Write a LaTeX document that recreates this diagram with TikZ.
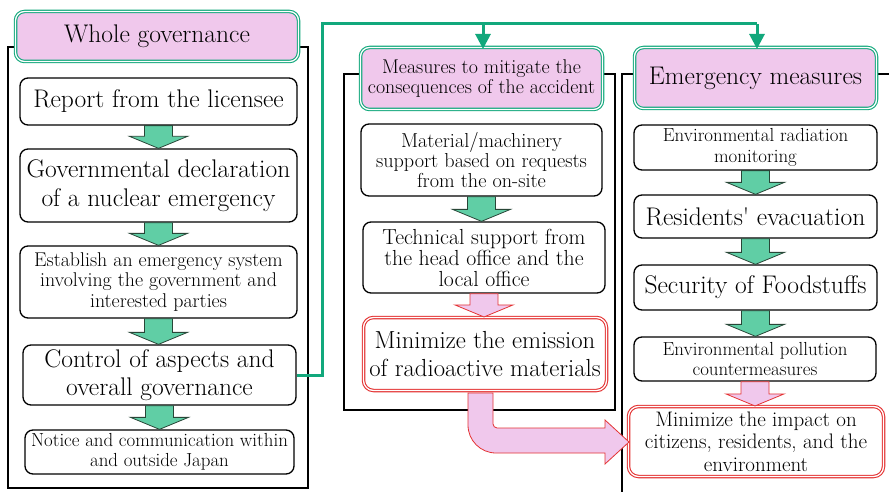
\documentclass[tikz,border=0pt]{standalone}
\usetikzlibrary{calc,arrows.meta}
\definecolor{gline}{RGB}{18,168,124}
\definecolor{gfill}{RGB}{96,206,165}
\definecolor{gedge}{RGB}{40,70,55}
\definecolor{pfill}{RGB}{240,200,236}
\definecolor{rline}{RGB}{228,52,52}
\newcommand{\fsA}{\fontsize{25.5}{28.5}\selectfont}
\newcommand{\fsB}{\fontsize{21.8}{21}\selectfont}
\newcommand{\fsC}{\fontsize{20.2}{19.6}\selectfont}
\newcommand{\fsD}{\fontsize{19.9}{20.5}\selectfont}
\newcommand{\fsE}{\fontsize{18.9}{20.5}\selectfont}
\newcommand{\fsF}{\fontsize{24.7}{28}\selectfont}
\newcommand{\fsG}{\fontsize{21}{22.5}\selectfont}
\newcommand{\blockarr}[3]{%
  \path[#3] let \p1=(#1.south), \p2=(#2.north) in
    (\x1-14pt,\y1) -- (\x1+14pt,\y1) -- (\x1+14pt,\y2+12pt) -- (\x1+29pt,\y2+12pt)
    -- (\x1,\y2) -- (\x1-29pt,\y2+12pt) -- (\x1-14pt,\y2+12pt) -- cycle;}
\tikzset{
  panel/.style={draw=black, line width=1.3pt},
  box/.style={draw=black, line width=1.3pt, rounded corners=8pt, fill=white, align=center, inner sep=0pt},
  hdr/.style={draw=gline, double=white, double distance=1.3pt, line width=1.1pt, fill=pfill, rounded corners=9pt, align=center, inner sep=0pt},
  redbox/.style={draw=rline, double=white, double distance=1.3pt, line width=1.1pt, fill=white, rounded corners=10pt, align=center, inner sep=0pt},
  garr/.style={fill=gfill, draw=gedge, line width=0.8pt, line join=miter},
  parr/.style={fill=pfill, draw=rline, line width=0.8pt, line join=miter},
  gconn/.style={draw=gline, line width=3pt},
  gtip/.style={-{Triangle[length=15pt,width=15pt]}}
}
\begin{document}
\begin{tikzpicture}[x=1pt,y=-1pt]
\useasboundingbox[fill=white] (0,0) rectangle (889,492);
% panels
\draw[panel] (8,47) rectangle (308,488);
\draw[panel] (344,74) rectangle (615,410);
\draw[panel] (622,492) -- (622,74) -- (889,74);
% headers
\node[hdr, font=\fsA, minimum width=283pt, minimum height=50pt] (h1) at (157,36.5) {Whole governance};
\node[hdr, font=\fsD, minimum width=242pt, minimum height=62pt] (h2) at (481.5,78.5) {Measures to mitigate the\\consequences of the accident};
\node[hdr, font=\fsA, minimum width=242pt, minimum height=61pt] (h3) at (755.5,78) {Emergency measures};
% column 1
\node[box, font=\fsA, minimum width=277pt, minimum height=47pt] (r1) at (158.5,101.5) {Report from the licensee};
\node[box, font=\fsA, minimum width=277pt, minimum height=73pt] (r2) at (158.5,185.5) {Governmental declaration\\of a nuclear emergency};
\node[box, font=\fsD, minimum width=277pt, minimum height=72pt] (r3) at (158.5,282) {Establish an emergency system\\involving the government and\\interested parties};
\node[box, font=\fsA, minimum width=273pt, minimum height=60pt] (r4) at (159.5,375) {Control of aspects and\\overall governance};
\node[box, font=\fsE, minimum width=269pt, minimum height=44pt] (r5) at (159.5,452) {Notice and communication within\\and outside Japan};
% column 2
\node[box, font=\fsC, minimum width=241pt, minimum height=72pt] (m1) at (481.5,160) {Material/machinery\\support based on requests\\from the on-site};
\node[box, font=\fsB, minimum width=242pt, minimum height=71pt] (m2) at (484,257.5) {Technical support from\\the head office and the\\local office};
\node[redbox, font=\fsF, minimum width=243pt, minimum height=73pt] (m3) at (485,354) {Minimize the emission\\of radioactive materials};
% column 3
\node[box, font=\fsE, minimum width=243pt, minimum height=45pt] (e1) at (755.5,147.5) {Environmental radiation\\monitoring};
\node[box, font=\fsA, minimum width=243pt, minimum height=43pt] (e2) at (755.5,216.5) {Residents\textquotesingle\ evacuation};
\node[box, font=\fsA, minimum width=243pt, minimum height=45pt] (e3) at (755.5,287.5) {Security of Foodstuffs};
\node[box, font=\fsE, minimum width=242pt, minimum height=44pt] (e4) at (755,359) {Environmental pollution\\countermeasures};
\node[redbox, font=\fsG, minimum width=255pt, minimum height=70pt] (e5) at (756,441.5) {Minimize the impact on\\citizens, residents, and the\\environment};
% block arrows
\blockarr{r1}{r2}{garr}
\blockarr{r2}{r3}{garr}
\blockarr{r3}{r4}{garr}
\blockarr{r4}{r5}{garr}
\blockarr{m1}{m2}{garr}
\blockarr{m2}{m3}{parr}
\blockarr{e1}{e2}{garr}
\blockarr{e2}{e3}{garr}
\blockarr{e3}{e4}{garr}
\blockarr{e4}{e5}{parr}
% big pink arrow
\path[parr] (468,393) -- (468,425) .. controls (468,440.5) and (480.5,453) .. (496,453)
  -- (605,453) -- (605,464) -- (629,442) -- (605,420) -- (605,428) -- (497,428)
  .. controls (495,428) and (493,426) .. (493,424) -- (493,393) -- cycle;
% green connectors
\coordinate (c1) at (322,24);
\coordinate (c2) at (757,24);
\coordinate (c3) at (483,24);
\draw[gconn] (r4.east) -| (c1) -- (c2);
\draw[gconn, gtip] (c2) -- ([yshift=-2pt]h3.north -| c2);
\draw[gconn, gtip] (c3) -- ([yshift=-2pt]h2.north -| c3);
\end{tikzpicture}
\end{document}
